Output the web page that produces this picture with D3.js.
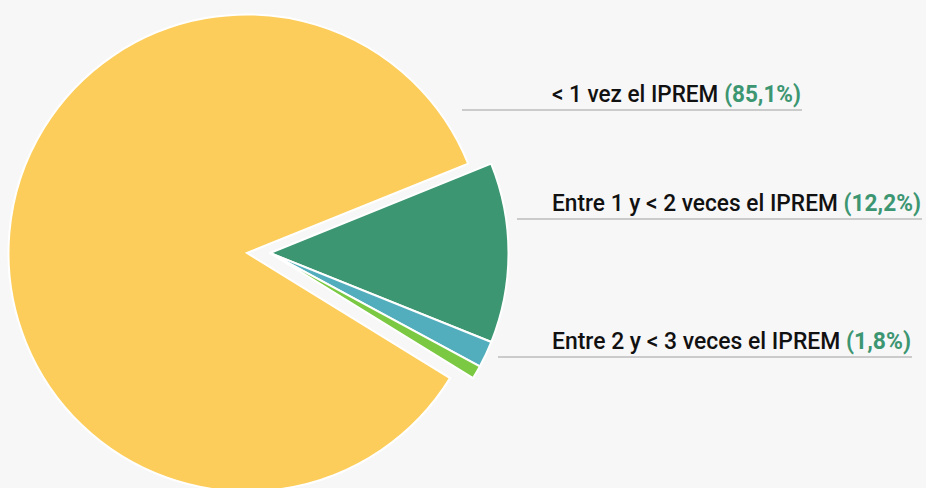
<!DOCTYPE html>
<html>
<head>
<meta charset="utf-8">
<script src="https://cdn.jsdelivr.net/npm/d3@7"></script>
<style>
  html, body { margin: 0; padding: 0; background: #f8f7f8; }
  svg { display: block; }
  .lbl { font-family: Roboto, "Noto Sans", sans-serif; font-size: 24px; font-weight: 500; fill: #111; }
  .pct { fill: #3d9672; font-weight: bold; }
</style>
</head>
<body>
<svg id="chart"></svg>
<script>
// Data
const categories = ["Entre 1 y < 2 veces el IPREM", "Entre 2 y < 3 veces el IPREM", "≥ 3 veces el IPREM", "< 1 vez el IPREM"];
const values = [12.2, 1.8, 0.9, 85.1];
const pctLabels = ["(12,2%)", "(1,8%)", "", "(85,1%)"];
const colors = ["#3d9672", "#52aebd", "#7bc943", "#fccd5a"];

// which slices get labels, top to bottom
const labelOrder = [3, 0, 1];
const labelY = [110, 219, 357];
const lineStart = [462, 517, 498];
const lineEnd = [802, 922, 912];

const width = 926;
const height = 488;
const cx = 247, cy = 253;
const radius = 238.5;
const explode = 23;
const textX = 552;

const svg = d3.select("#chart")
  .attr("width", width)
  .attr("height", height);

// pie starts at the top edge of the green slice (about 68 degrees clockwise from north)
const pie = d3.pie()
  .sort(null)
  .value(d => d)
  .startAngle(68 * Math.PI / 180)
  .endAngle(68 * Math.PI / 180 + 2 * Math.PI);

const arc = d3.arc().innerRadius(0).outerRadius(radius);
const arcs = pie(values);

const g = svg.append("g").attr("transform", `translate(${cx},${cy})`);

// the three small slices are pulled out together
const small = arcs.slice(0, 3);
g.append("g")
  .attr("transform", `translate(${explode},0)`)
  .selectAll("path")
  .data(small)
  .enter().append("path")
  .attr("d", arc)
  .attr("fill", (d, i) => colors[i])
  .attr("stroke", "#fff")
  .attr("stroke-width", 2)
  .attr("stroke-linejoin", "round");

g.append("path")
  .datum(arcs[3])
  .attr("d", arc)
  .attr("fill", colors[3])
  .attr("stroke", "#fff")
  .attr("stroke-width", 2);

// labels (squeezed horizontally to look like the condensed original font)
labelOrder.forEach((k, i) => {
  const y = labelY[i];
  svg.append("line")
    .attr("x1", lineStart[i]).attr("x2", lineEnd[i])
    .attr("y1", y).attr("y2", y)
    .attr("stroke", "#bdbcbd")
    .attr("stroke-width", 1.5);

  const lg = svg.append("g");
  const t1 = lg.append("text")
    .attr("class", "lbl")
    .attr("x", 0).attr("y", 0)
    .text(categories[k]);
  const w1 = t1.node().getComputedTextLength();
  const gap = 6;
  const t2 = lg.append("text")
    .attr("class", "lbl pct")
    .attr("x", w1 + gap).attr("y", 0)
    .text(pctLabels[k]);
  const total = w1 + gap + t2.node().getComputedTextLength();
  const sx = (lineEnd[i] - 1 - textX) / total;
  lg.attr("transform", `translate(${textX},${y - 8.5}) scale(${sx},1)`);
});
</script>
</body>
</html>
